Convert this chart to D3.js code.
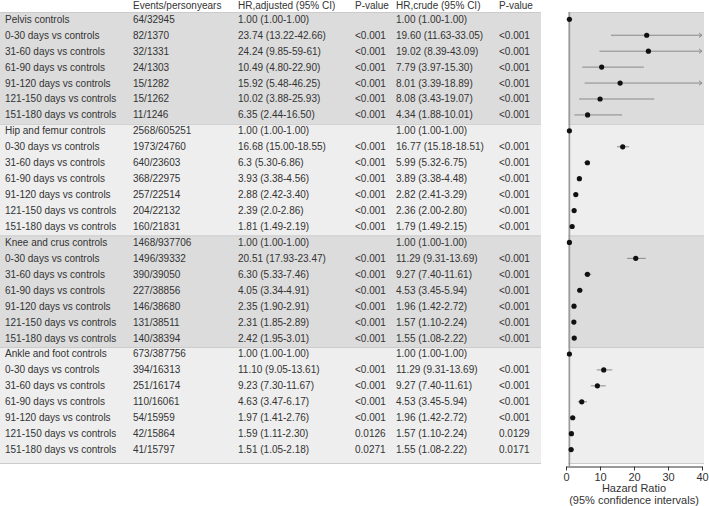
<!DOCTYPE html>
<html>
<head>
<meta charset="utf-8">
<script src="https://cdn.jsdelivr.net/npm/d3@7"></script>
<style>
  body { margin: 0; background: #fff; }
  svg { font-family: "Liberation Sans", Arial, Helvetica, sans-serif; }
</style>
</head>
<body>
<div id="chart"></div>
<script>
const groups = ["Pelvis", "Hip and femur", "Knee and crus", "Ankle and foot"];
const periods = ["0-30 days", "31-60 days", "61-90 days", "91-120 days", "121-150 days", "151-180 days"];
const headers = ["Events/personyears", "HR,adjusted (95% CI)", "P-value", "HR,crude (95% CI)", "P-value"];

const events = [
  "64/32945", "82/1370", "32/1331", "24/1303", "15/1282", "15/1262", "11/1246",
  "2568/605251", "1973/24760", "640/23603", "368/22975", "257/22514", "204/22132", "160/21831",
  "1468/937706", "1496/39332", "390/39050", "227/38856", "146/38680", "131/38511", "140/38394",
  "673/387756", "394/16313", "251/16174", "110/16061", "54/15959", "42/15864", "41/15797"
];
const hrAdjText = [
  "1.00 (1.00-1.00)", "23.74 (13.22-42.66)", "24.24 (9.85-59-61)", "10.49 (4.80-22.90)", "15.92 (5.48-46.25)", "10.02 (3.88-25.93)", "6.35 (2.44-16.50)",
  "1.00 (1.00-1.00)", "16.68 (15.00-18.55)", "6.3 (5.30-6.86)", "3.93 (3.38-4.56)", "2.88 (2.42-3.40)", "2.39 (2.0-2.86)", "1.81 (1.49-2.19)",
  "1.00 (1.00-1.00)", "20.51 (17.93-23.47)", "6.30 (5.33-7.46)", "4.05 (3.34-4.91)", "2.35 (1.90-2.91)", "2.31 (1.85-2.89)", "2.42 (1.95-3.01)",
  "1.00 (1.00-1.00)", "11.10 (9.05-13.61)", "9.23 (7.30-11.67)", "4.63 (3.47-6.17)", "1.97 (1.41-2.76)", "1.59 (1.11-2.30)", "1.51 (1.05-2.18)"
];
const pAdj = [
  "", "<0.001", "<0.001", "<0.001", "<0.001", "<0.001", "<0.001",
  "", "<0.001", "<0.001", "<0.001", "<0.001", "<0.001", "<0.001",
  "", "<0.001", "<0.001", "<0.001", "<0.001", "<0.001", "<0.001",
  "", "<0.001", "<0.001", "<0.001", "<0.001", "0.0126", "0.0271"
];
const hrCrudeText = [
  "1.00 (1.00-1.00)", "19.60 (11.63-33.05)", "19.02 (8.39-43.09)", "7.79 (3.97-15.30)", "8.01 (3.39-18.89)", "8.08 (3.43-19.07)", "4.34 (1.88-10.01)",
  "1.00 (1.00-1.00)", "16.77 (15.18-18.51)", "5.99 (5.32-6.75)", "3.89 (3.38-4.48)", "2.82 (2.41-3.29)", "2.36 (2.00-2.80)", "1.79 (1.49-2.15)",
  "1.00 (1.00-1.00)", "11.29 (9.31-13.69)", "9.27 (7.40-11.61)", "4.53 (3.45-5.94)", "1.96 (1.42-2.72)", "1.57 (1.10-2.24)", "1.55 (1.08-2.22)",
  "1.00 (1.00-1.00)", "11.29 (9.31-13.69)", "9.27 (7.40-11.61)", "4.53 (3.45-5.94)", "1.96 (1.42-2.72)", "1.57 (1.10-2.24)", "1.55 (1.08-2.22)"
];
const pCrude = [
  "", "<0.001", "<0.001", "<0.001", "<0.001", "<0.001", "<0.001",
  "", "<0.001", "<0.001", "<0.001", "<0.001", "<0.001", "<0.001",
  "", "<0.001", "<0.001", "<0.001", "<0.001", "<0.001", "<0.001",
  "", "<0.001", "<0.001", "<0.001", "<0.001", "0.0129", "0.0171"
];
// plotted values (adjusted HR)
const hr = [1, 23.74, 24.24, 10.49, 15.92, 10.02, 6.35, 1, 16.68, 6.3, 3.93, 2.88, 2.39, 1.81,
            1, 20.51, 6.30, 4.05, 2.35, 2.31, 2.42, 1, 11.10, 9.23, 4.63, 1.97, 1.59, 1.51];
const hrLo = [1, 13.22, 9.85, 4.80, 5.48, 3.88, 2.44, 1, 15.00, 5.30, 3.38, 2.42, 2.0, 1.49,
              1, 17.93, 5.33, 3.34, 1.90, 1.85, 1.95, 1, 9.05, 7.30, 3.47, 1.41, 1.11, 1.05];
const hrHi = [1, 42.66, 59.61, 22.90, 46.25, 25.93, 16.50, 1, 18.55, 6.86, 4.56, 3.40, 2.86, 2.19,
              1, 23.47, 7.46, 4.91, 2.91, 2.89, 3.01, 1, 13.61, 11.67, 6.17, 2.76, 2.30, 2.18];
const xTicks = [0, 10, 20, 30, 40];

// ---- layout ----
const WIDTH = 709, HEIGHT = 506;
const TABLE = {left: 0, right: 541};
const PANEL = {left: 568, right: 704, top: 12, bottom: 463};
const COLS = [5, 133, 238, 355, 396, 499];
const ROWS_PER_GROUP = 7;
const TEXT_COLOR = "#333";
const BAND_COLORS = ["#dcdcdc", "#eeeeee"];

const labels = [];
groups.forEach(g => {
  labels.push(g + " controls");
  periods.forEach(p => labels.push(p + " vs controls"));
});
const rows = labels.map((label, i) => ({
  i, label, events: events[i], adj: hrAdjText[i], pA: pAdj[i], crude: hrCrudeText[i], pC: pCrude[i],
  hr: hr[i], lo: hrLo[i], hi: hrHi[i]
}));

const y = d3.scaleLinear().domain([0, rows.length - 1]).range([19.3, 449.6]);
const x = d3.scaleLinear().domain([0, 40]).range([566, 702]);

const svg = d3.select("#chart").append("svg")
  .attr("width", WIDTH)
  .attr("height", HEIGHT);

// group bands for table and panel
const bandTop = gi => gi === 0 ? PANEL.top : y(gi * ROWS_PER_GROUP) - 7;
const bandBottom = gi => gi === groups.length - 1 ? PANEL.bottom + 1 : y((gi + 1) * ROWS_PER_GROUP) - 7;

[[TABLE.left, TABLE.right], [PANEL.left, PANEL.right]].forEach(([l, r]) => {
  svg.append("g").selectAll("rect")
    .data(groups)
    .join("rect")
    .attr("x", l)
    .attr("width", r - l)
    .attr("y", (d, gi) => bandTop(gi))
    .attr("height", (d, gi) => bandBottom(gi) - bandTop(gi))
    .attr("fill", (d, gi) => BAND_COLORS[gi % 2]);

  // separator lines between groups
  svg.append("g").selectAll("line")
    .data(d3.range(groups.length + 1))
    .join("line")
    .attr("x1", l).attr("x2", r)
    .attr("y1", k => k < groups.length ? bandTop(k) + 0.5 : bandBottom(groups.length - 1) - 0.5)
    .attr("y2", k => k < groups.length ? bandTop(k) + 0.5 : bandBottom(groups.length - 1) - 0.5)
    .attr("stroke", "#cbcbcb")
    .attr("stroke-width", 1);
});

// header
svg.append("g").selectAll("text")
  .data(headers)
  .join("text")
  .attr("x", (d, k) => COLS[k + 1])
  .attr("y", 5.8)
  .attr("dy", "0.35em")
  .attr("font-size", 10)
  .attr("fill", TEXT_COLOR)
  .text(d => d);

// table body
const fields = ["label", "events", "adj", "pA", "crude", "pC"];
const rowG = svg.append("g").selectAll("g")
  .data(rows)
  .join("g")
  .attr("transform", d => `translate(0,${y(d.i)})`);

fields.forEach((f, k) => {
  rowG.append("text")
    .attr("x", COLS[k])
    .attr("dy", "0.35em")
    .attr("font-size", 10)
    .attr("fill", TEXT_COLOR)
    .text(d => d[f]);
});

// forest plot
const plot = svg.append("g");

// reference line at HR = 1
plot.append("line")
  .attr("x1", x(1)).attr("x2", x(1))
  .attr("y1", PANEL.top).attr("y2", PANEL.bottom + 3)
  .attr("stroke", "#9a9a9a")
  .attr("stroke-width", 1.6);

// confidence intervals (clipped at the axis max with an arrow)
const xMax = x.domain()[1];
const ci = plot.append("g").selectAll("g")
  .data(rows.filter(d => d.hi > d.lo))
  .join("g");

ci.append("line")
  .attr("x1", d => x(d.lo))
  .attr("x2", d => x(Math.min(d.hi, xMax)))
  .attr("y1", d => y(d.i)).attr("y2", d => y(d.i))
  .attr("stroke", "#8a8a8a")
  .attr("stroke-width", 1);

ci.filter(d => d.hi > xMax)
  .append("path")
  .attr("d", d => {
    const ax = x(xMax), ay = y(d.i);
    return `M${ax - 3},${ay - 2.2}L${ax},${ay}L${ax - 3},${ay + 2.2}`;
  })
  .attr("fill", "none")
  .attr("stroke", "#8a8a8a")
  .attr("stroke-width", 1);

plot.append("g").selectAll("circle")
  .data(rows)
  .join("circle")
  .attr("cx", d => x(d.hr))
  .attr("cy", d => y(d.i))
  .attr("r", 2.6)
  .attr("fill", "#111");

// x axis
const axisG = svg.append("g")
  .attr("transform", `translate(0,${PANEL.bottom + 3.5})`)
  .call(d3.axisBottom(x).tickValues(xTicks).tickSize(4).tickSizeOuter(0));
axisG.select(".domain").attr("stroke", TEXT_COLOR);
axisG.selectAll(".tick line").attr("stroke", TEXT_COLOR);
axisG.selectAll(".tick text")
  .attr("font-size", 11)
  .attr("font-family", "Liberation Sans, Arial, sans-serif")
  .attr("fill", TEXT_COLOR);

const xMid = (x.range()[0] + x.range()[1]) / 2;
svg.append("text")
  .attr("x", xMid).attr("y", 488.5)
  .attr("dy", "0.35em")
  .attr("text-anchor", "middle")
  .attr("font-size", 11)
  .attr("fill", TEXT_COLOR)
  .text("Hazard Ratio");
svg.append("text")
  .attr("x", xMid).attr("y", 500.5)
  .attr("dy", "0.35em")
  .attr("text-anchor", "middle")
  .attr("font-size", 11)
  .attr("fill", TEXT_COLOR)
  .text("(95% confidence intervals)");
</script>
</body>
</html>
